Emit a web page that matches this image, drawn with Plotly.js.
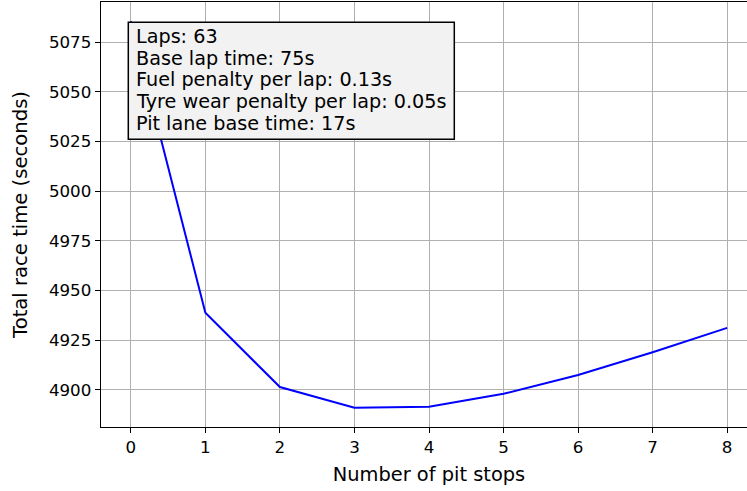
<!DOCTYPE html>
<html>
<head>
<meta charset="utf-8">
<script src="https://cdn.plot.ly/plotly-3.0.1.min.js"></script>
<style>
  html, body { margin: 0; padding: 0; overflow: hidden; background: #fff; }
  #chart { width: 760px; height: 491px; }
</style>
</head>
<body>
<div id="chart"></div>
<script>
const pitStops = [0, 1, 2, 3, 4, 5, 6, 7, 8];
const raceTime = [5085.5, 4938.8, 4901.4, 4891.0, 4891.5, 4898.0, 4907.5, 4918.9, 4931.2];
const yTicks = [4900, 4925, 4950, 4975, 5000, 5025, 5050, 5075];
const infoLines = [
  "Laps: 63",
  "Base lap time: 75s",
  "Fuel penalty per lap: 0.13s",
  "Tyre wear penalty per lap: 0.05s",
  "Pit lane base time: 17s"
];

const font = "'DejaVu Sans', sans-serif";
const W = 760, H = 491;
const M = { l: 101, r: 3, t: 2, b: 64 };
const PW = W - M.l - M.r, PH = H - M.t - M.b;
const px2x = p => (p - M.l) / PW;
const px2y = p => 1 - (p - M.t) / PH;

const trace = {
  x: pitStops,
  y: raceTime,
  type: "scatter",
  mode: "lines",
  line: { color: "#0000ff", width: 2 },
  hoverinfo: "skip"
};

const annotations = infoLines.map((t, i) => ({
  xref: "paper", yref: "paper",
  x: px2x(134), y: px2y(36.5 + 21.7 * i),
  xanchor: "left", yanchor: "middle",
  align: "left",
  showarrow: false,
  text: t,
  font: { family: font, size: 19.2, color: "#000" }
}));

const layout = {
  width: W,
  height: H,
  margin: M,
  paper_bgcolor: "#ffffff",
  plot_bgcolor: "#ffffff",
  showlegend: false,
  font: { family: font, size: 16.7, color: "#000" },
  xaxis: {
    range: [-0.4, 8.4],
    tickvals: pitStops,
    ticktext: pitStops.map(String),
    ticks: "outside",
    ticklen: 5,
    tickwidth: 1,
    tickcolor: "#000",
    showgrid: true,
    gridcolor: "#b0b0b0",
    gridwidth: 1,
    zeroline: false,
    showline: true,
    linecolor: "#000",
    linewidth: 1.3,
    mirror: true,
    automargin: false,
    tickfont: { family: font, size: 16.7, color: "#000" },
    title: { text: "Number of pit stops", font: { family: font, size: 19.4, color: "#000" }, standoff: 11 }
  },
  yaxis: {
    range: [4881.3, 5095.2],
    tickvals: yTicks,
    ticktext: yTicks.map(String),
    ticks: "outside",
    ticklen: 5,
    tickwidth: 1,
    tickcolor: "#000",
    showgrid: true,
    gridcolor: "#b0b0b0",
    gridwidth: 1,
    zeroline: false,
    showline: true,
    linecolor: "#000",
    linewidth: 1.3,
    mirror: true,
    automargin: false,
    tickfont: { family: font, size: 16.7, color: "#000" },
    title: { text: "Total race time (seconds)", font: { family: font, size: 19.6, color: "#000" }, standoff: 16 }
  },
  shapes: [{
    type: "rect",
    xref: "paper", yref: "paper",
    x0: px2x(128.3), x1: px2x(454.3),
    y0: px2y(22.3), y1: px2y(139.3),
    fillcolor: "#f2f2f2",
    line: { color: "#000", width: 1.5 },
    layer: "above"
  }],
  annotations: annotations
};

Plotly.newPlot("chart", [trace], layout, { displayModeBar: false, staticPlot: true });
</script>
</body>
</html>
